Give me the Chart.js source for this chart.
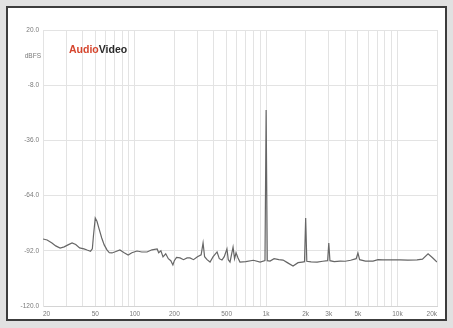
<!DOCTYPE html>
<html>
<head>
<meta charset="utf-8">
<style>
  html, body { margin: 0; padding: 0; background: #e1e1e1; }
  canvas { display: block; }
</style>
<script src="https://cdn.jsdelivr.net/npm/chart.js@4.4.1/dist/chart.umd.min.js"></script>
</head>
<body>
<canvas id="spectrum" width="453" height="328"></canvas>
<script>
// Frequency (Hz) of each sample of the analyser trace
const freqs = [
  20, 21.5, 23.4, 25, 27, 29, 31, 33.3, 35.5, 38, 41, 43.3, 46, 47.5, 48.5, 50, 51.5, 53, 56, 58.5,
  61.4, 64, 67, 71, 77, 83, 89, 95, 104, 113, 124, 135, 148, 152, 158, 164, 172, 180, 188, 195,
  200, 208, 221, 235, 250, 263, 280, 300, 320, 331, 340, 355, 374, 395, 423, 440, 461, 480, 503, 515,
  531, 545, 560, 575, 590, 611, 632, 700, 800, 900, 980, 1000, 1020, 1071, 1150, 1250, 1346, 1450, 1603, 1750,
  1880, 1960, 2000, 2040, 2200, 2444, 2700, 2940, 3000, 3060, 3300, 3656, 4000, 4400, 4850, 5000, 5150, 5700, 6520, 7100,
  7762, 9000, 10470, 12000, 14100, 15500, 17100, 18500, 20000
];
// Level (dBFS) at each frequency above
const levels = [
  -86.0, -86.5, -88.0, -89.5, -90.6, -90.0, -89.0, -88.0, -88.8, -90.5, -91.0, -91.6, -92.2, -91.0, -84.0, -75.4, -77.0, -80.0, -85.5, -89.0,
  -91.5, -93.0, -93.1, -92.5, -91.6, -93.0, -94.1, -93.0, -92.1, -92.6, -92.6, -91.5, -91.1, -93.0, -92.0, -95.1, -93.5, -96.0, -97.0, -99.2,
  -97.0, -95.4, -95.6, -96.5, -95.6, -95.6, -96.5, -95.0, -94.0, -88.0, -95.0, -96.5, -97.7, -95.0, -92.6, -96.0, -96.7, -95.0, -91.0, -96.5,
  -97.7, -94.0, -90.1, -96.0, -93.0, -95.6, -97.7, -97.5, -96.8, -97.7, -97.0, -20.6, -97.0, -97.2, -96.0, -96.5, -96.7, -98.0, -99.7, -98.0,
  -97.7, -97.5, -75.4, -97.3, -97.6, -97.7, -97.3, -97.0, -88.0, -97.0, -97.5, -97.2, -97.3, -96.8, -96.0, -93.1, -96.5, -97.2, -97.2, -96.5,
  -96.6, -96.6, -96.6, -96.7, -96.6, -96.2, -93.5, -95.5, -97.7
];

// Level axis divisions
const yTicks = [20, -8, -36, -64, -92, -120];
// Frequency grid lines (1-2-...-9 per decade)
const xGrid = [
  20, 30, 40, 50, 60, 70, 80, 90,
  100, 200, 300, 400, 500, 600, 700, 800, 900,
  1000, 2000, 3000, 4000, 5000, 6000, 7000, 8000, 9000,
  10000, 20000
];
// Labelled frequencies and their captions
const xLabelValues = [20, 50, 100, 200, 500, 1000, 2000, 3000, 5000, 10000, 20000];
const xLabelTexts  = ['20', '50', '100', '200', '500', '1k', '2k', '3k', '5k', '10k', '20k'];

const unitLabel = 'dBFS';

const TICK_FONT = { family: 'Liberation Sans, Arial, sans-serif', size: 6.5 };
const TICK_COLOR = '#7a7a7a';

const framePlugin = {
  id: 'frame',
  beforeDraw(chart) {
    const ctx = chart.ctx;
    ctx.save();
    ctx.fillStyle = '#e1e1e1';
    ctx.fillRect(0, 0, chart.width, chart.height);
    ctx.fillStyle = '#ffffff';
    ctx.fillRect(7, 7, 439, 313);
    ctx.strokeStyle = '#3c3c3c';
    ctx.lineWidth = 2;
    ctx.strokeRect(7, 7, 439, 313);
    ctx.restore();
  },
  afterDraw(chart) {
    const ctx = chart.ctx;
    ctx.save();
    // unit caption beside the level axis
    ctx.font = '6.5px "Liberation Sans", Arial, sans-serif';
    ctx.fillStyle = TICK_COLOR;
    ctx.textAlign = 'right';
    ctx.textBaseline = 'middle';
    ctx.fillText(unitLabel, 41, 56);
    // logo
    ctx.font = 'bold 10.5px "Liberation Sans", Arial, sans-serif';
    ctx.textAlign = 'left';
    ctx.textBaseline = 'middle';
    const a = 'Audio';
    ctx.fillStyle = '#d6452d';
    ctx.fillText(a, 69, 50);
    const w = ctx.measureText(a).width;
    ctx.fillStyle = '#2a2a2a';
    ctx.fillText('Video', 69 + w, 50);
    ctx.restore();
  }
};

new Chart(document.getElementById('spectrum'), {
  type: 'line',
  data: {
    datasets: [{
      data: freqs.map((f, i) => ({ x: f, y: levels[i] })),
      borderColor: '#666666',
      borderWidth: 1.2,
      pointRadius: 0,
      tension: 0,
      fill: false
    }]
  },
  options: {
    responsive: false,
    devicePixelRatio: 1,
    animation: false,
    layout: { padding: { top: 30, right: 16, left: 0, bottom: 0 } },
    plugins: { legend: { display: false }, tooltip: { enabled: false } },
    scales: {
      x: {
        type: 'logarithmic',
        min: 20,
        max: 20000,
        afterBuildTicks: scale => { scale.ticks = xGrid.map(v => ({ value: v })); },
        afterFit: scale => { scale.height = 22; },
        grid: { color: '#e3e3e3', lineWidth: 1, drawTicks: false },
        border: { display: true, color: '#d4d4d4' },
        ticks: {
          autoSkip: false,
          maxRotation: 0,
          align: 'inner',
          padding: 4,
          font: TICK_FONT,
          color: TICK_COLOR,
          callback: v => {
            const k = xLabelValues.indexOf(v);
            return k >= 0 ? xLabelTexts[k] : '';
          }
        }
      },
      y: {
        type: 'linear',
        min: -120,
        max: 20,
        afterBuildTicks: scale => { scale.ticks = yTicks.map(v => ({ value: v })); },
        afterFit: scale => { scale.width = 43; },
        grid: { color: '#e3e3e3', lineWidth: 1, drawTicks: false },
        border: { display: true, color: '#e3e3e3' },
        ticks: {
          padding: 4,
          font: TICK_FONT,
          color: TICK_COLOR,
          callback: v => v.toFixed(1)
        }
      }
    }
  },
  plugins: [framePlugin]
});
</script>
</body>
</html>
